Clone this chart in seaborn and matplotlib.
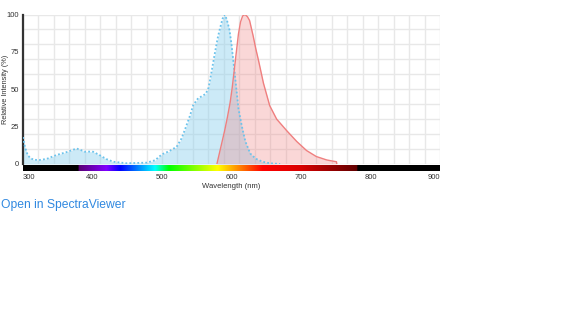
import numpy as np
import pandas as pd
import matplotlib
matplotlib.use("Agg")
import matplotlib.pyplot as plt
import seaborn as sns

# ---------------- data ----------------
ex_wl = [300, 303, 306, 310, 316, 324, 334, 348, 363, 372, 377, 383, 389, 395, 401, 410,
         420, 430, 449, 478, 490, 500, 510, 521, 528, 533, 540, 545, 552, 558, 563, 567,
         571, 576, 580, 583, 587, 590, 593, 597, 600, 605, 610, 615, 620, 627, 635, 645,
         655, 670]
ex_val = [18, 11, 7, 4, 2.8, 2.7, 3.4, 6, 8, 9.5, 10.4, 9.4, 8.2, 8.3, 8.2, 6,
          3.3, 1.5, 0.5, 0.9, 2.5, 6.5, 8.5, 11.5, 17, 23, 32, 39.5, 44, 45.5, 47, 51,
          61, 74, 84, 90, 97, 100, 97, 90, 80, 59, 37, 25, 15, 7, 3.5, 1.5,
          0.5, 0]

em_wl = [579, 581, 583, 586, 590, 594, 598, 601, 604, 607, 610, 613, 616, 619.5, 623,
         626, 631, 635, 639, 646, 655, 665, 680, 694, 708, 722, 737, 745, 751, 751.5]
em_val = [0, 4, 8, 14, 22, 31, 41, 51, 63, 75, 87, 95, 99, 100, 98.5,
          96, 86, 77, 69, 54, 39, 30, 22, 15, 9, 5, 2.7, 2, 1.5, 0]

x_ticks = [300, 400, 500, 600, 700, 800, 900]
y_ticks = [0, 25, 50, 75, 100]

ex_df = pd.DataFrame({"wl": ex_wl, "val": ex_val})
em_df = pd.DataFrame({"wl": em_wl, "val": em_val})

# ---------------- style ----------------
sns.set_style("white")
plt.rcParams["font.family"] = ["Liberation Sans", "DejaVu Sans"]

W, H = 583, 316
fig = plt.figure(figsize=(W / 100, H / 100), dpi=100)

def rect(x0, y0, x1, y1):
    return [x0 / W, 1 - y1 / H, (x1 - x0) / W, (y1 - y0) / H]

ax = fig.add_axes(rect(23, 14.5, 440, 164))
bar = fig.add_axes(rect(23, 165, 440, 171.5))

# grid
for gx in np.linspace(300, 900, 28):
    ax.axvline(gx, color="#e8e8e8", lw=1.0, zorder=0)
for gy in np.arange(0, 101, 10):
    ax.axhline(gy, color="#e8e8e8", lw=1.0, zorder=0)

# excitation
ax.fill_between(ex_df["wl"], 0, ex_df["val"], color="#87cfee", alpha=0.42, lw=0, zorder=2)
sns.lineplot(data=ex_df, x="wl", y="val", ax=ax, color="#6cc3ec", lw=1.3,
             linestyle=(0, (1, 1.2)), zorder=4)
# emission
ax.fill_between(em_df["wl"], 0, em_df["val"], color="#f08484", alpha=0.32, lw=0, zorder=3)
sns.lineplot(data=em_df, x="wl", y="val", ax=ax, color="#ef7f7f", lw=1.0, zorder=5)

ax.set_xlim(300, 900)
ax.set_ylim(0, 100)
ax.set_xticks([])
ax.set_yticks(y_ticks)
ax.set_yticklabels([str(v) for v in y_ticks], fontsize=5.5, color="#333333")
ax.tick_params(axis="y", length=0, pad=3)
ax.set_xlabel("")
ax.set_ylabel("")
for s in ["top", "right", "bottom"]:
    ax.spines[s].set_visible(False)
ax.spines["left"].set_color("#333333")
ax.spines["left"].set_linewidth(1.6)

fig.text(5.5 / W, 1 - 89 / H, "Relative Intensity (%)", fontsize=5.3, color="#333333",
         rotation=90, ha="center", va="center")

# spectrum bar
stops_wl = [380, 420, 440, 490, 510, 580, 645, 700, 781]
stops_rgb = [(0.35, 0.0, 0.45), (0.5, 0.0, 1.0), (0.0, 0.0, 1.0), (0.0, 1.0, 1.0),
             (0.0, 1.0, 0.0), (1.0, 1.0, 0.0), (1.0, 0.0, 0.0), (0.85, 0.0, 0.0),
             (0.38, 0.0, 0.0)]
grid_wl = np.linspace(300, 900, 1200)
img = np.zeros((1, grid_wl.size, 3))
inside = (grid_wl >= 380) & (grid_wl <= 781)
for c in range(3):
    img[0, :, c] = np.where(inside, np.interp(grid_wl, stops_wl, [s[c] for s in stops_rgb]), 0)
bar.imshow(img, aspect="auto", extent=[300, 900, 0, 1], interpolation="bilinear")
bar.set_xlim(300, 900)
bar.set_ylim(0, 1)
bar.set_yticks([])
bar.set_xticks(x_ticks)
bar.set_xticklabels([str(v) for v in x_ticks], fontsize=5.5, color="#333333")
labs = bar.get_xticklabels()
labs[0].set_horizontalalignment("left")
labs[-1].set_horizontalalignment("right")
bar.tick_params(axis="x", length=0, pad=2)
for s in bar.spines.values():
    s.set_visible(False)
bar.set_xlabel("Wavelength (nm)", fontsize=5.5, color="#333333", labelpad=1.5)

fig.text(1 / W, 1 - 205 / H, "Open in SpectraViewer", fontsize=8.7, color="#3189e0",
         ha="left", va="center")

fig.savefig("out.png", dpi=100)
